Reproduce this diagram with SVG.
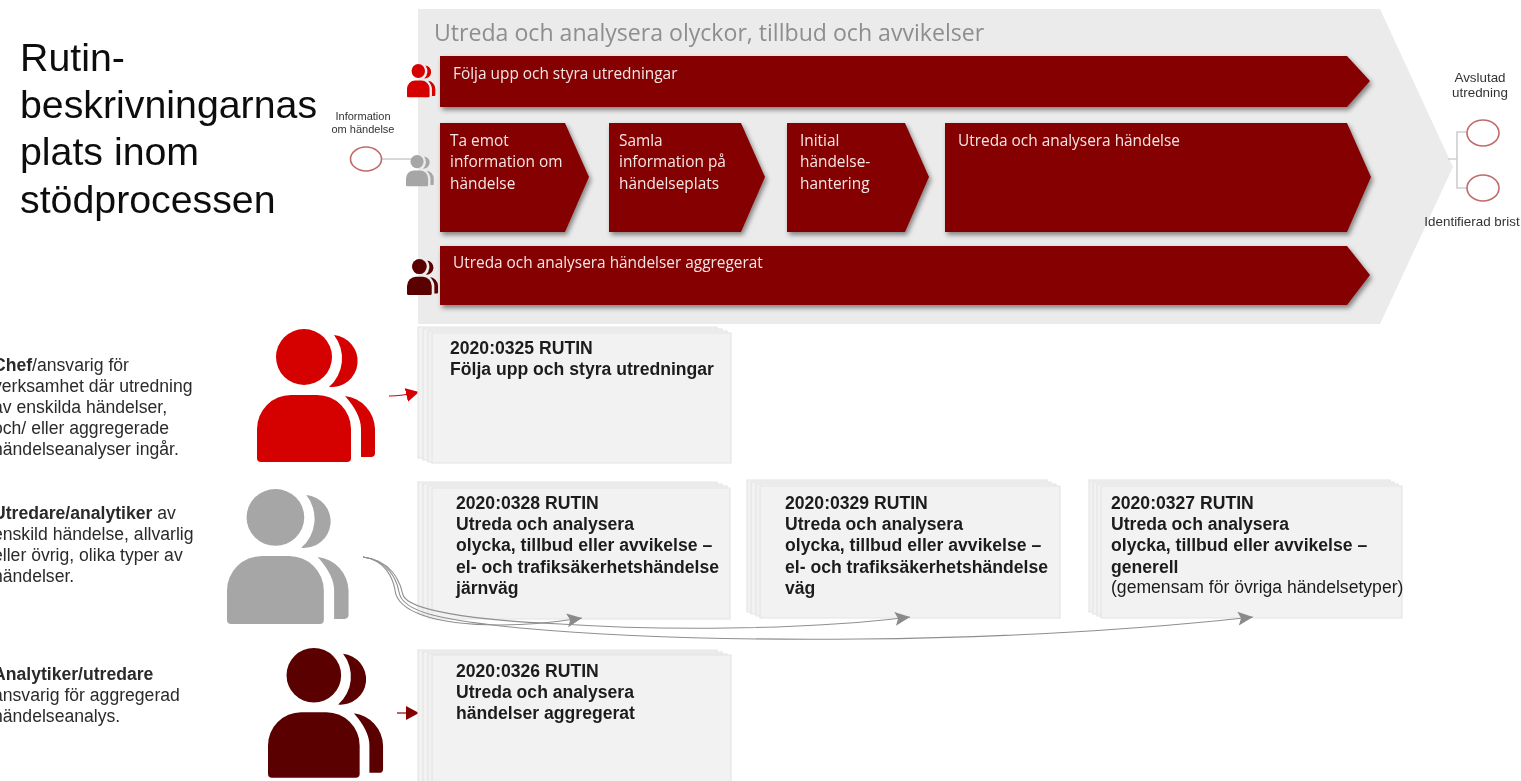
<svg xmlns="http://www.w3.org/2000/svg" xmlns:xlink="http://www.w3.org/1999/xlink" width="1521" height="781" viewBox="0 0 1521 781">
<style>
text{font-family:"Liberation Sans",Arial,sans-serif}
.title{font-size:39.300px;fill:#111}
.head{font-family:"Open Sans","Liberation Sans",sans-serif;font-size:23.100px;fill:#8e8e8e}
.bar{fill:#850000;filter:url(#sh)}
.bt{font-family:"Open Sans","Liberation Sans",sans-serif;font-size:15.400px;fill:#f4e6e6}
.sheet{fill:#f2f2f2;stroke:#e4e4e4;stroke-width:1.2}
.dt{font-size:17.600px;font-weight:bold;fill:#1c1c1c}
.dn{font-weight:normal}
.lt{font-size:17.600px;fill:#2a2a2a}
.b{font-weight:bold}
.sm{font-size:11px;fill:#333;text-anchor:middle}
.md{font-size:13.400px;fill:#333;text-anchor:middle}
.ev{fill:#fff;stroke:#c06a6a;stroke-width:1.6}
.ln{fill:none;stroke:#cfcfcf;stroke-width:1.6}
.cv{fill:none;stroke:#8f8f8f;stroke-width:1.1}
.r{fill:#d50000}.g{fill:#a6a6a6}.d{fill:#5a0000}
</style>
<defs>
<filter id="sh" x="-5%" y="-10%" width="110%" height="125%"><feDropShadow dx="2" dy="3" stdDeviation="2.5" flood-color="#000" flood-opacity=".45"/></filter>
<filter id="soft" filterUnits="userSpaceOnUse" x="0" y="0" width="1521" height="781"><feGaussianBlur stdDeviation=".55"/></filter>
<marker id="ag" markerUnits="userSpaceOnUse" markerWidth="16" markerHeight="14" refX="15" refY="7" orient="auto"><path d="M0 0L15 7L0 14L3 7Z" fill="#8a8a8a"/></marker>
<marker id="ar" markerUnits="userSpaceOnUse" markerWidth="14" markerHeight="14" refX="13" refY="7" orient="auto"><path d="M0 0L13 7L0 14Z" fill="#d50000"/></marker>
<marker id="ad" markerUnits="userSpaceOnUse" markerWidth="14" markerHeight="14" refX="13" refY="7" orient="auto"><path d="M0 0L13 7L0 14Z" fill="#850000"/></marker>
<symbol id="p" overflow="visible">
<circle cx="47" cy="28" r="28"/>
<path d="M77 6A26 26 0 0 1 72 58A38 38 0 0 0 77 6Z"/>
<path d="M4 133Q0 133 0 129V100A34 34 0 0 1 34 66H60A34 34 0 0 1 94 100V129Q94 133 90 133Z"/>
<path d="M88 67A34 34 0 0 1 118 100V124Q118 128 114 128H104V100Q104 85 88 67Z"/>
</symbol>
</defs>
<rect width="1521" height="781" fill="#fff"/>
<g id="diagram" filter="url(#soft)">

<g id="title"><text class="title" x="20" y="71">Rutin-</text><text class="title" x="20" y="118">beskrivningarnas</text><text class="title" x="20" y="165">plats inom</text><text class="title" x="20" y="213">stödprocessen</text></g>

<g id="process">
<path d="M418 9H1380L1453 167L1380 324H418Z" fill="#ebebeb"/>
<text class="head" x="434" y="41">Utreda och analysera olyckor, tillbud och avvikelser</text>
</g>

<g id="connectors">
<path class="ln" d="M382 159H412"/>
<path class="ln" d="M1448 159H1457M1467 132H1457V188H1467"/>
<path d="M389 396Q402 396 419 392" fill="none" stroke="#d50000" stroke-width="1.2" marker-end="url(#ar)"/>
<path d="M397 713H419" fill="none" stroke="#850000" stroke-width="1.2" marker-end="url(#ad)"/>
</g>

<g id="bar-folja"><path class="bar" d="M440 56H1347L1370 81L1347 107H440Z"/><text class="bt" x="453" y="79">Följa upp och styra utredningar</text></g>
<g id="bar-taemot"><path class="bar" d="M440 123H565L589 177L565 232H440Z"/><text class="bt" x="450" y="146">Ta emot</text><text class="bt" x="450" y="167">information om</text><text class="bt" x="450" y="189">händelse</text></g>
<g id="bar-samla"><path class="bar" d="M609 123H741L765 177L741 232H609Z"/><text class="bt" x="619" y="146">Samla</text><text class="bt" x="619" y="167">information på</text><text class="bt" x="619" y="189">händelseplats</text></g>
<g id="bar-initial"><path class="bar" d="M787 123H905L929 177L905 232H787Z"/><text class="bt" x="800" y="146">Initial</text><text class="bt" x="800" y="167">händelse-</text><text class="bt" x="800" y="189">hantering</text></g>
<g id="bar-utreda"><path class="bar" d="M945 123H1347L1371 177L1347 232H945Z"/><text class="bt" x="958" y="146">Utreda och analysera händelse</text></g>
<g id="bar-aggregerat"><path class="bar" d="M440 246H1347L1370 275L1347 305H440Z"/><text class="bt" x="453" y="268">Utreda och analysera händelser aggregerat</text></g>

<g id="icon-small-red" class="r"><use xlink:href="#p" href="#p" transform="translate(407 64) scale(.24 .25)"/></g>
<g id="icon-small-grey" class="g"><use xlink:href="#p" href="#p" transform="translate(406 155) scale(.235)"/></g>
<g id="icon-small-dark" class="d"><use xlink:href="#p" href="#p" transform="translate(407 259) scale(.263 .27)"/></g>

<g id="ev-info"><ellipse class="ev" cx="366" cy="159" rx="15.500" ry="12"/><text class="sm" x="363" y="120">Information</text><text class="sm" x="363" y="133">om händelse</text></g>
<g id="ev-avslutad"><ellipse class="ev" cx="1483" cy="133" rx="16" ry="13"/><text class="md" x="1480" y="82">Avslutad</text><text class="md" x="1480" y="97">utredning</text></g>
<g id="ev-brist"><ellipse class="ev" cx="1483" cy="188" rx="16" ry="13"/><text class="md" x="1472" y="226">Identifierad brist</text></g>

<g id="role-chef"><g class="r"><use xlink:href="#p" href="#p" transform="translate(257 329)"/></g>
<text class="lt" x="-7" y="371"><tspan class="b">Chef</tspan>/ansvarig för</text><text class="lt" x="-7" y="392">verksamhet där utredning</text><text class="lt" x="-7" y="413">av enskilda händelser,</text><text class="lt" x="-7" y="434">och/ eller aggregerade</text><text class="lt" x="-7" y="455">händelseanalyser ingår.</text></g>
<g id="role-utredare"><g class="g"><use xlink:href="#p" href="#p" transform="translate(227 489) scale(1.03 1.015)"/></g>
<text class="lt" x="-7" y="519"><tspan class="b">Utredare/analytiker</tspan> av</text><text class="lt" x="-7" y="540">enskild händelse, allvarlig</text><text class="lt" x="-7" y="561">eller övrig, olika typer av</text><text class="lt" x="-7" y="582">händelser.</text></g>
<g id="role-analytiker"><g class="d"><use xlink:href="#p" href="#p" transform="translate(268 648) scale(.975)"/></g>
<text class="lt" x="-7" y="680"><tspan class="b">Analytiker/utredare</tspan></text><text class="lt" x="-7" y="701">ansvarig för aggregerad</text><text class="lt" x="-7" y="722">händelseanalys.</text></g>

<g id="doc-0325"><path class="sheet" d="M418 327H717V458H418Z"/><path class="sheet" d="M423 329H722V460H423Z"/><path class="sheet" d="M428 331H727V462H428Z"/><path class="sheet" d="M432 333H731V463H432Z"/>
<text class="dt" x="450" y="354">2020:0325 RUTIN</text><text class="dt" x="450" y="375">Följa upp och styra utredningar</text></g>
<g id="doc-0328"><path class="sheet" d="M418 482H717V614H418Z"/><path class="sheet" d="M423 484H722V616H423Z"/><path class="sheet" d="M428 486H727V618H428Z"/><path class="sheet" d="M432 488H730V619H432Z"/>
<text class="dt" x="456" y="509">2020:0328 RUTIN</text><text class="dt" x="456" y="530">Utreda och analysera</text><text class="dt" x="456" y="551">olycka, tillbud eller avvikelse –</text><text class="dt" x="456" y="573">el- och trafiksäkerhetshändelse</text><text class="dt" x="456" y="594">järnväg</text></g>
<g id="doc-0329"><path class="sheet" d="M747 480H1047V612H747Z"/><path class="sheet" d="M751 482H1051V614H751Z"/><path class="sheet" d="M756 484H1056V616H756Z"/><path class="sheet" d="M760 486H1060V618H760Z"/>
<text class="dt" x="785" y="509">2020:0329 RUTIN</text><text class="dt" x="785" y="530">Utreda och analysera</text><text class="dt" x="785" y="551">olycka, tillbud eller avvikelse –</text><text class="dt" x="785" y="573">el- och trafiksäkerhetshändelse</text><text class="dt" x="785" y="594">väg</text></g>
<g id="doc-0327"><path class="sheet" d="M1089 480H1390V612H1089Z"/><path class="sheet" d="M1093 482H1394V614H1093Z"/><path class="sheet" d="M1097 484H1398V616H1097Z"/><path class="sheet" d="M1101 486H1402V618H1101Z"/>
<text class="dt" x="1111" y="509">2020:0327 RUTIN</text><text class="dt" x="1111" y="530">Utreda och analysera</text><text class="dt" x="1111" y="551">olycka, tillbud eller avvikelse –</text><text class="dt" x="1111" y="573">generell</text><text class="dt dn" x="1111" y="593">(gemensam för övriga händelsetyper)</text></g>
<g id="doc-0326"><path class="sheet" d="M418 650H717V782H418Z"/><path class="sheet" d="M423 652H722V782H423Z"/><path class="sheet" d="M428 654H727V782H428Z"/><path class="sheet" d="M432 655H731V782H432Z"/>
<text class="dt" x="456" y="677">2020:0326 RUTIN</text><text class="dt" x="456" y="698">Utreda och analysera</text><text class="dt" x="456" y="719">händelser aggregerat</text></g>

<g id="curves">
<path class="cv" marker-end="url(#ag)" d="M363 557C385 560 393 578 395 590C397 610 430 625 500 625C530 625 550 623 582 618"/>
<path class="cv" marker-end="url(#ag)" d="M363 557C390 560 400 580 403 595C408 610 470 620 560 624C650 630 800 631 910 617"/>
<path class="cv" marker-end="url(#ag)" d="M363 557C388 560 397 580 399 592C402 612 440 620 520 628C700 644 1000 645 1253 617"/>
</g>
</g>
</svg>
